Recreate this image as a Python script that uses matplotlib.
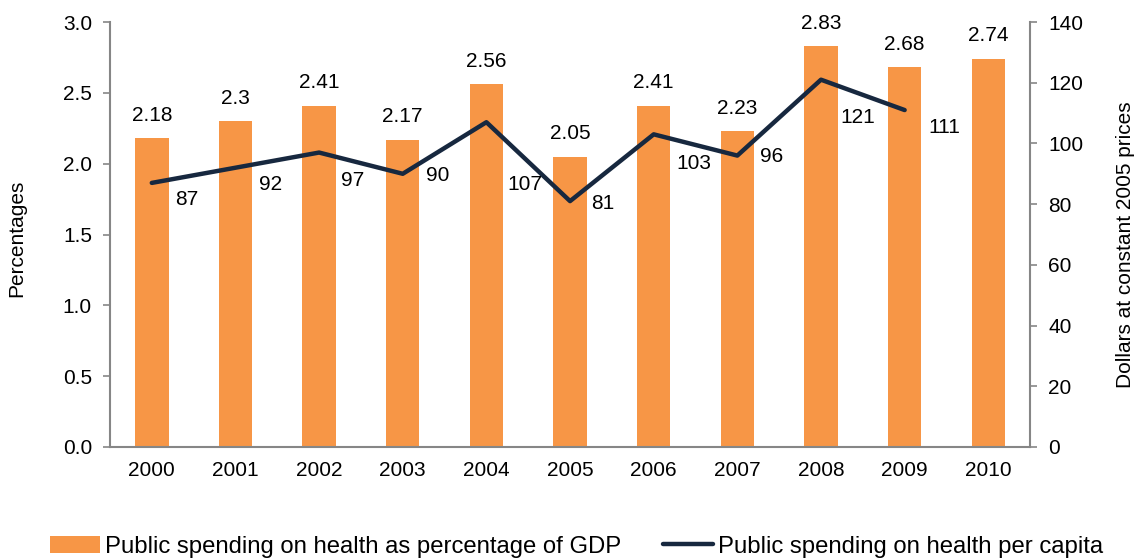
import matplotlib
matplotlib.use('Agg')
import matplotlib.pyplot as plt
import numpy as np

plt.rcParams['font.family'] = ['Liberation Sans', 'DejaVu Sans']

years = ['2000', '2001', '2002', '2003', '2004', '2005', '2006', '2007', '2008', '2009', '2010']
pct_gdp = [2.18, 2.3, 2.41, 2.17, 2.56, 2.05, 2.41, 2.23, 2.83, 2.68, 2.74]
per_capita = [87, 92, 97, 90, 107, 81, 103, 96, 121, 111]
pct_labels = ['2.18', '2.3', '2.41', '2.17', '2.56', '2.05', '2.41', '2.23', '2.83', '2.68', '2.74']

# where each per-capita label sits relative to its point (pixels, right / down)
lab_dx = [35, 35, 34, 35, 38, 33, 40, 34, 37, 40]
lab_dy = [17, 17, 28, 2, 62, 2, 29, 1, 38, 17]

orange = '#F79646'
navy = '#17283F'
gray = '#868686'

fig = plt.figure(figsize=(11.36, 5.59), dpi=100)
ax = fig.add_axes([0.0968, 0.2004, 0.81, 0.7602])
ax2 = ax.twinx()

x = np.arange(len(years))
bars = ax.bar(x, pct_gdp, width=0.4, color=orange, label='Public spending on health as percentage of GDP', zorder=2)
for xi, v, t in zip(x, pct_gdp, pct_labels):
    ax.annotate(t, (xi, v), xytext=(0, 23), textcoords='offset pixels', ha='center', va='center', fontsize=15)

xl = x[:len(per_capita)]
line, = ax2.plot(xl, per_capita, color=navy, lw=3.2, solid_capstyle='round',
                 label='Public spending on health per capita', zorder=3)
for xi, v, dx, dy in zip(xl, per_capita, lab_dx, lab_dy):
    ax2.annotate(str(v), (xi, v), xytext=(dx, -dy), textcoords='offset pixels', ha='center', va='center', fontsize=15)

ax.set_xlim(-0.5, len(years) - 0.5)
ax.set_ylim(0, 3.0)
ax2.set_ylim(0, 140)
ax.set_yticks(np.arange(0, 3.01, 0.5))
ax.set_yticklabels([f'{v:.1f}' for v in np.arange(0, 3.01, 0.5)])
ax2.set_yticks(np.arange(0, 141, 20))
ax.set_xticks(x)
ax.set_xticklabels(years)

for a in (ax, ax2):
    for s in a.spines.values():
        s.set_visible(False)
    a.tick_params(labelsize=15, colors=gray, labelcolor='black', length=5, width=1.2, pad=8)
ax.spines['left'].set_visible(True)
ax.spines['bottom'].set_visible(True)
ax2.spines['right'].set_visible(True)
for s in (ax.spines['left'], ax.spines['bottom'], ax2.spines['right']):
    s.set_color(gray)
    s.set_linewidth(1.5)
ax.tick_params(axis='x', length=0, pad=10)

ax.set_ylabel('Percentages', fontsize=15)
ax.yaxis.set_label_coords(-0.0913, 0.49)
ax2.set_ylabel('Dollars at constant 2005 prices', fontsize=15)
ax2.yaxis.set_label_coords(1.0935, 0.475)

fig.legend(handles=[bars, line], loc='center left', bbox_to_anchor=(0.044, 0.022), ncol=2,
           frameon=False, fontsize=17.2, handlelength=2.1, handletextpad=0.2, columnspacing=1.75,
           borderaxespad=0, borderpad=0)

fig.savefig('out.png', dpi=100)
